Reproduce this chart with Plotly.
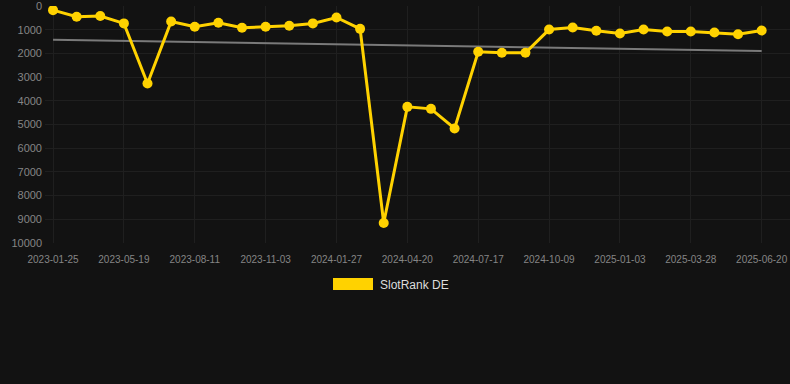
import numpy as np
import plotly.graph_objects as go

dates = ["2023-01-25", "2023-03-04", "2023-04-11", "2023-05-19", "2023-06-16", "2023-07-14",
         "2023-08-11", "2023-09-08", "2023-10-06", "2023-11-03", "2023-12-01", "2023-12-29",
         "2024-01-27", "2024-02-24", "2024-03-23", "2024-04-20", "2024-05-19", "2024-06-18",
         "2024-07-17", "2024-08-14", "2024-09-11", "2024-10-09", "2024-11-06", "2024-12-05",
         "2025-01-03", "2025-01-31", "2025-02-28", "2025-03-28", "2025-04-25", "2025-05-23",
         "2025-06-20"]
rank = [170, 450, 420, 730, 3270, 650, 870, 700, 915, 870, 830, 730, 480, 960, 9160,
        4255, 4340, 5170, 1930, 1970, 1970, 990, 900, 1040, 1155, 990, 1070, 1070, 1115,
        1185, 1030]
y_ticks = [0, 1000, 2000, 3000, 4000, 5000, 6000, 7000, 8000, 9000, 10000]
series_name = "SlotRank DE"

idx = np.arange(len(dates))
coef = np.polyfit(idx, rank, 1)
trend = np.polyval(coef, idx)

W, H = 790, 384
L, R, T, B = 45, 0, 6, 141
YELLOW = "#FFD200"

fig = go.Figure()
fig.add_trace(go.Scatter(x=idx, y=trend, mode="lines",
                         line=dict(color="#7a7a7a", width=2), showlegend=False, hoverinfo="skip"))
fig.add_trace(go.Scatter(x=idx, y=rank, mode="lines+markers", name=series_name,
                         line=dict(color=YELLOW, width=3),
                         marker=dict(color=YELLOW, size=10), showlegend=False))

# legend drawn in pixel space
def px(xp):
    return (xp - L) / (W - L - R)
def py(yp):
    return 1 - (yp - T) / (H - T - B)

fig.add_shape(type="rect", xref="paper", yref="paper",
              x0=px(333), x1=px(373), y0=py(278), y1=py(290),
              fillcolor=YELLOW, line=dict(width=0))
fig.add_annotation(xref="paper", yref="paper", x=px(378), y=py(284.5),
                   text=series_name, showarrow=False, xanchor="left", yanchor="middle",
                   font=dict(size=12, color="#dddddd", family="Liberation Sans, Arial"))

fig.update_layout(
    width=W, height=H,
    margin=dict(l=L, r=R, t=T, b=B),
    paper_bgcolor="#121212", plot_bgcolor="#121212",
    font=dict(family="Liberation Sans, Arial", color="#858585"),
    showlegend=False,
    xaxis=dict(range=[-0.34, 31.2], tickmode="array", tickvals=idx[::3],
               ticktext=dates[::3], showgrid=True, gridcolor="#1f1f1f", gridwidth=1,
               zeroline=False, showline=False, tickfont=dict(size=10, color="#858585"),
               ticks="", ticklabelstandoff=9, ticklabeloverflow="allow", fixedrange=True),
    yaxis=dict(range=[10005, -5], tickmode="array", tickvals=y_ticks,
               ticktext=[str(v) for v in y_ticks],
               showgrid=True, gridcolor="#1f1f1f", gridwidth=1, zeroline=False,
               showline=False, tickfont=dict(size=11, color="#858585"), ticks="",
               ticklabelstandoff=2, ticklabeloverflow="allow", fixedrange=True),
)

fig.write_html("out.html", config={"displayModeBar": False},
               post_script="document.body.style.margin='0';document.body.style.background='#121212';")
